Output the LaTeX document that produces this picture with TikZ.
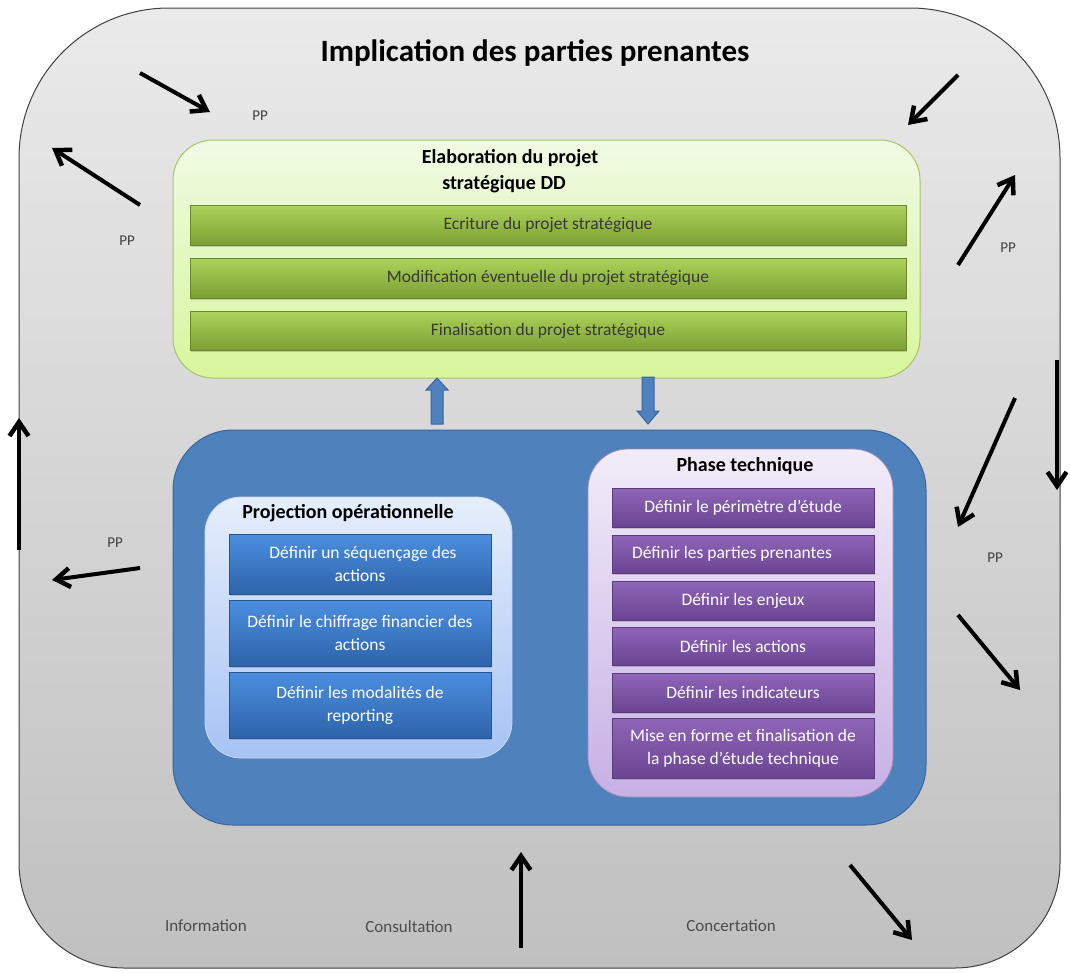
\documentclass[tikz,border=0pt]{standalone}
\usepackage{fontspec}
\setmainfont{Carlito}
\usetikzlibrary{arrows.meta,shadows,calc}

\definecolor{outerTop}{HTML}{EAEAEA}
\definecolor{outerBot}{HTML}{C0C0C0}
\definecolor{greenTop}{HTML}{F0FAE4}
\definecolor{greenBot}{HTML}{D8F69C}
\definecolor{greenEdge}{HTML}{A5C46C}
\definecolor{barGTop}{HTML}{ACD35A}
\definecolor{barGBot}{HTML}{7C9F34}
\definecolor{midBlue}{HTML}{4F81BD}
\definecolor{midBlueEdge}{HTML}{3A669E}
\definecolor{lbTop}{HTML}{E6EEFB}
\definecolor{lbBot}{HTML}{A6C3F4}
\definecolor{barBTop}{HTML}{4B8FE0}
\definecolor{barBBot}{HTML}{2E63AA}
\definecolor{purTop}{HTML}{F2ECF8}
\definecolor{purBot}{HTML}{C7B0E5}
\definecolor{barPTop}{HTML}{9066B8}
\definecolor{barPBot}{HTML}{6A4492}

\tikzset{
  panel/.style={inner sep=0pt},
  greenpanel/.style={panel, draw=greenEdge, line width=1pt, top color=greenTop, bottom color=greenBot, rounded corners=40},
  bluepanel/.style={panel, draw=midBlueEdge, line width=1pt, fill=midBlue, rounded corners=60},
  lbpanel/.style={panel, draw=lbTop!80!midBlue, line width=0.8pt, top color=lbTop, bottom color=lbBot, rounded corners=36},
  purpanel/.style={panel, draw=purBot!80!black, line width=0.8pt, top color=purTop, bottom color=purBot, rounded corners=40},
  bar/.style={inner sep=0pt, align=center, font=\fontsize{17.5}{23}\selectfont,
    drop shadow={opacity=0.35, shadow xshift=0.8pt, shadow yshift=-1.6pt}},
  greenbar/.style={bar, draw=barGBot!85!black, line width=0.6pt, top color=barGTop, bottom color=barGBot, text=black!78},
  bluebar/.style={bar, draw=barBBot!85!black, line width=0.6pt, top color=barBTop, bottom color=barBBot, text=white},
  purbar/.style={bar, draw=barPBot!85!black, line width=0.6pt, top color=barPTop, bottom color=barPBot, text=white},
  heading/.style={font=\bfseries\fontsize{20}{26}\selectfont, align=center, inner sep=0pt},
  pp/.style={font=\fontsize{15}{17}\selectfont, text=black!75, inner sep=0pt},
  level/.style={font=\fontsize{17}{19}\selectfont, text=black!70, inner sep=0pt},
  ppArrow/.style={line width=4pt, -{Straight Barb[length=14pt,width=19pt,line width=4.5pt]}},
  blockArrow/.style={draw=midBlueEdge, line width=1pt, fill=midBlue},
}

\begin{document}
\begin{tikzpicture}[x=1pt,y=-1pt]
\useasboundingbox (0,0) rectangle (1070,972);

% outer frame: wide rounding at the top, tighter at the bottom
\draw[draw=black!75, line width=1pt, top color=outerTop, bottom color=outerBot]
  (19,500) [rounded corners=150] -- (19,8) -- (1060,8) -- (1060,500)
  [rounded corners=105] -- (1060,968) -- (19,968) -- cycle;

\node[font=\bfseries\fontsize{31}{34}\selectfont, inner sep=0pt] (title) at (535,53) {Implication des parties prenantes};

% strategic project panel
\node[greenpanel, minimum width=747, minimum height=238] (strat) at (546.5,259) {};
\node[heading] (stratTitle) at (510,171) {Elaboration du projet\\\hspace*{-12pt}stratégique DD};
\node[greenbar, minimum width=716, minimum height=40] (g1) at (548,225) {Ecriture du projet stratégique};
\node[greenbar, minimum width=716, minimum height=40] (g2) at (548,278) {Modification éventuelle du projet stratégique};
\node[greenbar, minimum width=716, minimum height=39] (g3) at (548,330.5) {Finalisation du projet stratégique};

% operational panel
\node[bluepanel, minimum width=753, minimum height=395] (ops) at (549.5,627.5) {};

% block arrows between the panels
\coordinate (upBase) at (437,424);
\coordinate (upTip) at (437,378);
\coordinate (dnBase) at (648,377);
\coordinate (dnTip) at (648,424);
\draw[blockArrow] ($(upBase)+(-6,0)$) -- ++(0,-34) -- ++(-5,0) -- (upTip) -- ($(upBase)+(11,-34)$) -- ++(-5,0) -- ($(upBase)+(6,0)$) -- cycle;
\draw[blockArrow] ($(dnBase)+(-6,0)$) -- ++(0,34) -- ++(-5,0) -- (dnTip) -- ($(dnBase)+(11,34)$) -- ++(-5,0) -- ($(dnBase)+(6,0)$) -- cycle;

% projection panel
\node[lbpanel, minimum width=307, minimum height=261] (proj) at (358.5,627.5) {};
\node[heading] (projTitle) at (348,513) {Projection opérationnelle};
\node[bluebar, minimum width=262, minimum height=60] (b1) at (360,564) {\hspace*{6pt}Définir un séquençage des\\actions};
\node[bluebar, minimum width=262, minimum height=66] (b2) at (360,633) {Définir le chiffrage financier des\\actions};
\node[bluebar, minimum width=262, minimum height=66] (b3) at (360,705) {Définir les modalités de\\reporting};

% technical phase panel
\node[purpanel, minimum width=305, minimum height=348] (tech) at (740.5,623) {};
\node[heading] (techTitle) at (745,466) {Phase technique};
\node[purbar, minimum width=262, minimum height=39] (p1) at (743,507.5) {Définir le périmètre d’étude};
\node[purbar, minimum width=262, minimum height=38] (p2) at (743,554) {\hspace*{-22pt}Définir les parties prenantes};
\node[purbar, minimum width=262, minimum height=39] (p3) at (743,600.5) {Définir les enjeux};
\node[purbar, minimum width=262, minimum height=38] (p4) at (743,646) {Définir les actions};
\node[purbar, minimum width=262, minimum height=39] (p5) at (743,692.5) {Définir les indicateurs};
\node[purbar, minimum width=262, minimum height=60] (p6) at (743,748) {Mise en forme et finalisation de\\la phase d’étude technique};

% stakeholder labels
\node[pp] (ppA) at (260,116) {PP};
\node[pp] (ppB) at (127,241) {PP};
\node[pp] (ppC) at (1008,248) {PP};
\node[pp] (ppD) at (995,558) {PP};
\node[pp] (ppE) at (115,543) {PP};

% stakeholder flows
\coordinate (a1s) at (140,73);   \coordinate (a1e) at (210,112);
\coordinate (a2s) at (140,205);  \coordinate (a2e) at (52,148);
\coordinate (a3s) at (958,75);   \coordinate (a3e) at (908,125);
\coordinate (a4s) at (958,265);  \coordinate (a4e) at (1015,175);
\coordinate (a5s) at (1057,360); \coordinate (a5e) at (1057,490);
\coordinate (a6s) at (1015,398); \coordinate (a6e) at (958,527);
\coordinate (a7s) at (958,615);  \coordinate (a7e) at (1020,690);
\coordinate (a8s) at (19,550);   \coordinate (a8e) at (19,418);
\coordinate (a9s) at (140,568);  \coordinate (a9e) at (52,580);
\coordinate (a10s) at (521,948); \coordinate (a10e) at (521,852);
\coordinate (a11s) at (850,865); \coordinate (a11e) at (912,940);
\foreach \k in {1,...,11} {\draw[ppArrow] (a\k s) -- (a\k e);}

% participation levels
\node[level] (info) at (206,926) {Information};
\node[level] (cons) at (409,927) {Consultation};
\node[level] (conc) at (731,926) {Concertation};
\end{tikzpicture}
\end{document}
